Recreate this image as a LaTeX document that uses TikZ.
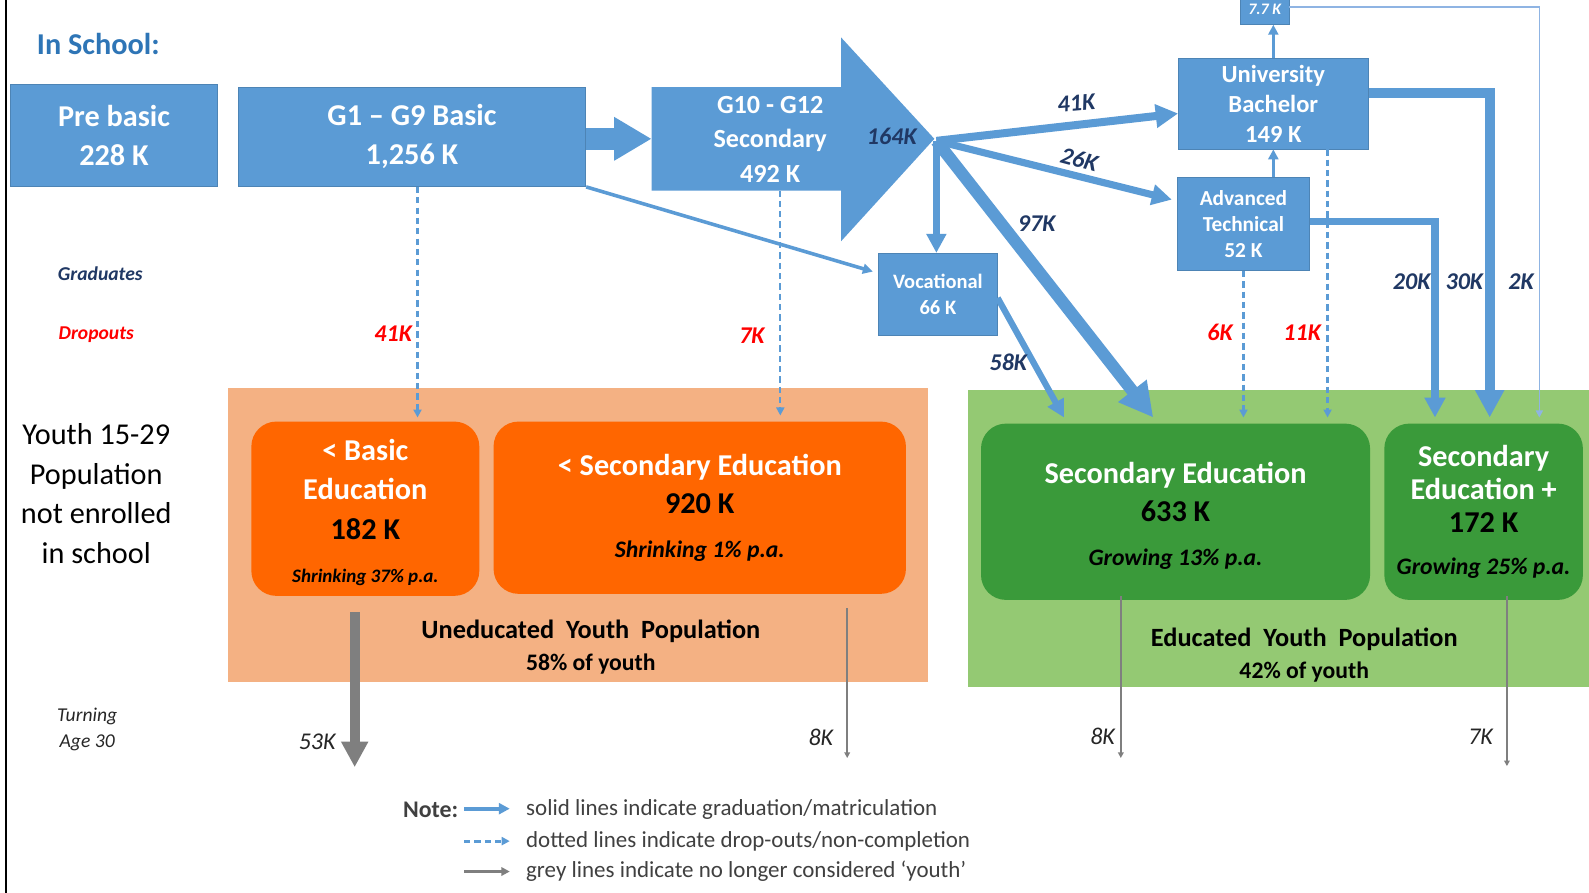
\documentclass[tikz,border=0pt]{standalone}
\usepackage{fontspec}
\setmainfont{Carlito}
\usetikzlibrary{arrows.meta}
\definecolor{boxblue}{HTML}{5B9BD5}
\definecolor{headblue}{HTML}{2E75B6}
\definecolor{navy}{HTML}{203864}
\definecolor{paleorange}{HTML}{F4B183}
\definecolor{deeporange}{HTML}{FF6600}
\definecolor{palegreen}{HTML}{94C973}
\definecolor{deepgreen}{HTML}{3A9A3A}
\definecolor{thinblue}{HTML}{8FB4E3}
\definecolor{notegrey}{HTML}{404040}
\definecolor{agegrey}{HTML}{7F7F7F}
\tikzset{
  school/.style={fill=boxblue, draw=boxblue!85!black, line width=0.5pt, text=white, align=center, inner sep=0pt},
  youthbox/.style={rounded corners=14pt, align=center, inner sep=0pt, text=black},
  flow/.style={draw=boxblue, line width=#1, -{Triangle[length=0pt 2.8, width=0pt 2.8]}},
  flow/.default=3pt,
  drop/.style={draw=boxblue, line width=1.2pt, dash pattern=on 3.5pt off 2.3pt, -{Triangle[length=4.5pt, width=4.5pt]}},
  aged/.style={draw=agegrey, line width=#1, -{Triangle[length=0pt 2.6, width=0pt 2.6]}},
  aged/.default=1.2pt,
  gradlbl/.style={text=navy, font=\fontsize{13.5}{15}\selectfont\bfseries\itshape},
  droplbl/.style={text=red, font=\fontsize{13.5}{15}\selectfont\bfseries\itshape},
  agelbl/.style={text=black!85, font=\fontsize{13.5}{15}\selectfont\itshape},
  notetext/.style={text=notegrey, anchor=west, font=\fontsize{12.9}{14}\selectfont},
}
\begin{document}
\begin{tikzpicture}[x=0.02cm,y=-0.02cm]
\useasboundingbox (0,0) rectangle (1568,881);
\fill[white] (0,0) rectangle (1568,881);
\draw[line width=0.8pt] (6,0) -- (6,881);
% population areas
\fill[paleorange] (225,383) rectangle (916,673);
\fill[palegreen] (955,385) rectangle (1568,678);

% in school row
\node[text=headblue, font=\fontsize{17}{20}\selectfont\bfseries] (title) at (97,43) {In School:};
\node[school, minimum width=4.1cm, minimum height=2.02cm, font=\fontsize{17}{22}\selectfont\bfseries] (pre) at (112.5,133.5) {Pre basic\\228 K};
\node[school, minimum width=6.86cm, minimum height=1.96cm, font=\fontsize{17}{22}\selectfont\bfseries] (basic) at (406.5,135) {G1 -- G9 Basic\\1,256 K};
\fill[boxblue] (643,86) -- (830,86) -- (830,37) -- (922,137) -- (830,238) -- (830,188) -- (643,188) -- cycle;
\coordinate (secin) at (643,137);
\coordinate (secfoot) at (770,188);
\coordinate (hub) at (924,139);
\node[text=white, align=center, font=\fontsize{14.7}{19.6}\selectfont\bfseries] (sec) at (760,137.5) {G10 - G12\\Secondary\\492 K};
\node[school, minimum width=2.34cm, minimum height=1.62cm, font=\fontsize{11.5}{14.2}\selectfont\bfseries] (voc) at (925.5,290.5) {Vocational\\66 K};
\node[school, minimum width=3.74cm, minimum height=1.78cm, font=\fontsize{13.8}{17}\selectfont\bfseries] (uni) at (1256.5,102.5) {University\\Bachelor\\149 K};
\node[school, minimum width=2.6cm, minimum height=1.84cm, font=\fontsize{12}{14.8}\selectfont\bfseries] (adv) at (1227,221) {Advanced\\Technical\\52 K};
\node[school, minimum width=0.96cm, minimum height=0.6cm, font=\fontsize{9}{10}\selectfont\bfseries\itshape] (master) at (1248,9) {7.7 K};

% flows between schools
\draw[draw=boxblue, line width=12.5pt, -{Triangle[length=21pt, width=23pt]}] (basic.east |- secin) -- (secin);
\draw[flow=4.5pt] (hub) -- (uni.west |- 0,112);
\draw[flow=4pt] (hub) -- ([xshift=-3pt]adv.west |- 0,197);
\draw[flow=3.8pt] (hub) -- (hub |- voc.north);
\draw[flow=6.8pt] (hub) -- (1138,412);
\draw[flow=2pt] (basic.south east) -- ([xshift=-3pt]voc.west |- 0,268);
\draw[flow=3.5pt] (voc.east |- 0,294) -- (1050,412);
\draw[flow=2pt] (uni.north |- adv.north) -- (uni.south);
\draw[flow=2pt] (uni.north) -- (uni.north |- master.south);
\draw[flow=5.5pt] (uni.east |- 0,92) -- (1470,92) -- (1470,412);
\draw[flow=4pt] (adv.east |- 0,219) -- (1416,219) -- (1416,412);
\draw[draw=thinblue, line width=0.9pt, -{Triangle[length=4pt, width=4pt]}] (master.east |- 0,7) -- (1519,7) -- (1519,412);

% drop-outs
\draw[drop] (basic.south -| 412,0) -- (412,412);
\draw[drop] (secfoot) -- (770,410);
\draw[drop] (adv.south) -- (adv.south |- 0,412);
\draw[drop] (uni.south -| 1310,0) -- (1310,412);

% flow labels
\node[gradlbl] (l164) at (880,135) {164K};
\node[gradlbl, rotate=5] (l41) at (1062,102) {41K};
\node[gradlbl, rotate=-15] (l26) at (1065,157) {26K};
\node[gradlbl] (l97) at (1023,221) {97K};
\node[gradlbl] (l58) at (995,358) {58K};
\node[gradlbl] (l20) at (1393,278) {20K};
\node[gradlbl] (l30) at (1445,278) {30K};
\node[gradlbl] (l2) at (1501,278) {2K};
\node[droplbl] (d41) at (388,329) {41K};
\node[droplbl] (d7) at (742,331) {7K};
\node[droplbl] (d6) at (1204,328) {6K};
\node[droplbl] (d11) at (1285,328) {11K};
\node[text=navy, font=\fontsize{11}{13}\selectfont\bfseries\itshape] (grad) at (99,270) {Graduates};
\node[text=red, font=\fontsize{11}{13}\selectfont\bfseries\itshape] (drops) at (95,330) {Dropouts};

% youth not in school
\node[align=center, font=\fontsize{17}{22.2}\selectfont] (youth) at (95,487) {Youth 15-29\\Population\\not enrolled\\in school};
\node[align=center, text=black!85, font=\fontsize{11}{14.8}\selectfont\itshape] (turn) at (86,720) {Turning\\Age 30};

\node[youthbox, fill=deeporange, minimum width=4.5cm, minimum height=3.44cm] (lowbasic) at (360.5,502) {};
\node[align=center, font=\fontsize{17}{22.2}\selectfont\bfseries] (lowbasictxt) at (360.5,505.5)
  {\textcolor{white}{< Basic}\\\textcolor{white}{Education}\\182 K\\[2pt]{\fontsize{10.7}{12}\selectfont\itshape Shrinking 37\% p.a.}};
\node[youthbox, fill=deeporange, minimum width=8.14cm, minimum height=3.4cm, font=\fontsize{17}{21.6}\selectfont\bfseries] (lowsec) at (690.5,501)
  {\textcolor{white}{< Secondary Education}\\920 K\\[3pt]{\fontsize{13.3}{15}\selectfont\itshape Shrinking 1\% p.a.}};
\node[youthbox, fill=deepgreen, minimum width=7.68cm, minimum height=3.48cm] (secedu) at (1160,505) {};
\node[align=center, font=\fontsize{17}{21.6}\selectfont\bfseries] (secedutxt) at (1160,509)
  {\textcolor{white}{Secondary Education}\\633 K\\[3pt]{\fontsize{13.3}{15}\selectfont\itshape Growing 13\% p.a.}};
\node[youthbox, fill=deepgreen, minimum width=3.92cm, minimum height=3.48cm, font=\fontsize{17}{18.5}\selectfont\bfseries] (secplus) at (1464,505)
  {\textcolor{white}{Secondary}\\\textcolor{white}{Education +}\\172 K\\[5pt]{\fontsize{13.3}{15}\selectfont\itshape Growing 25\% p.a.}};
\node[align=center, font=\fontsize{14.8}{18}\selectfont\bfseries] (unedu) at (583,639) {Uneducated\ \ Youth\ \ Population\\{\fontsize{13.3}{15}\selectfont 58\% of youth}};
\node[align=center, font=\fontsize{14.8}{18}\selectfont\bfseries] (edu) at (1287,646) {Educated\ \ Youth\ \ Population\\{\fontsize{13.3}{15}\selectfont 42\% of youth}};

% turning 30
\draw[aged=5.5pt] (lowbasic.south -| 350,0) ++(0,16) -- (350,757);
\draw[aged] (lowsec.south -| 836,0) ++(0,14) -- (836,748);
\draw[aged] (secedu.south -| 1106,0) ++(0,-4) -- (1106,748);
\draw[aged] (secplus.south -| 1487,0) ++(0,-4) -- (1487,756);
\node[agelbl] (a53) at (313,732) {53K};
\node[agelbl] (a8u) at (810,728) {8K};
\node[agelbl] (a8e) at (1088,727) {8K};
\node[agelbl] (a7) at (1461,727) {7K};

% note
\node[text=notegrey, font=\fontsize{13.4}{15}\selectfont\bfseries] (note) at (425,799) {Note:};
\coordinate (k1a) at (458,798);
\coordinate (k1b) at (503,798);
\coordinate (k2a) at (458,830);
\coordinate (k2b) at (503,830);
\coordinate (k3a) at (458,860);
\coordinate (k3b) at (503,860);
\draw[flow=2.2pt] (k1a) -- (k1b);
\draw[drop, line width=1.6pt] (k2a) -- (k2b);
\draw[aged=1.8pt] (k3a) -- (k3b);
\node[notetext] (n1) at (513,799) {solid lines indicate graduation/matriculation};
\node[notetext] (n2) at (513,830) {dotted lines indicate drop-outs/non-completion};
\node[notetext] (n3) at (513,860) {grey lines indicate no longer considered `youth'};
\end{tikzpicture}
\end{document}
